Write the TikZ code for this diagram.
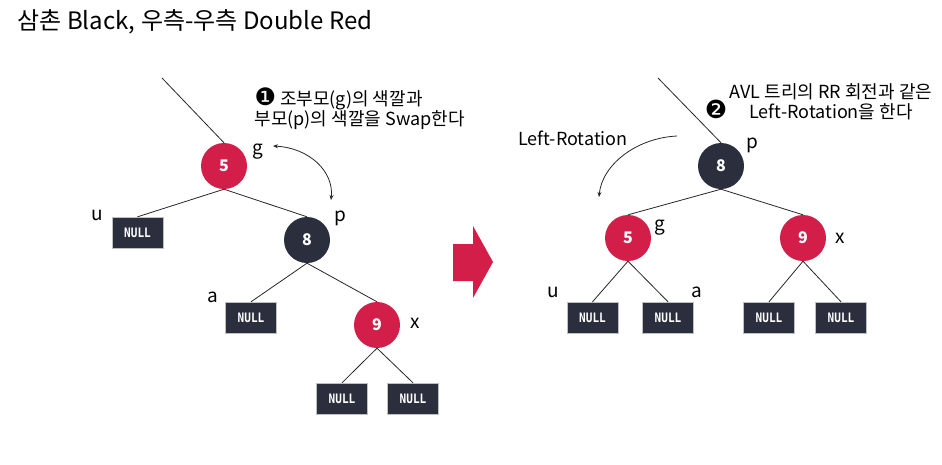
\documentclass[tikz,border=0pt]{standalone}
\usepackage{fontspec}
\setmainfont{Noto Sans CJK KR}
\newfontfamily\symfont{DejaVu Sans}
\newfontfamily\boxfont[FakeStretch=0.85]{DejaVu Sans Mono}
\usetikzlibrary{arrows.meta}
\definecolor{rbred}{RGB}{210,30,72}
\definecolor{rbdark}{RGB}{42,46,61}

\begin{document}
\begin{tikzpicture}[x=1pt,y=-1pt,
  rednode/.style={circle,fill=rbred,minimum size=46pt,inner sep=0pt,text=white,font=\bfseries\fontsize{16}{16}\selectfont},
  blacknode/.style={rednode,fill=rbdark},
  nullbox/.style={fill=rbdark,draw=gray!50,line width=0.4pt,minimum width=51pt,minimum height=31pt,inner sep=0pt,text=white,font=\boxfont\bfseries\fontsize{13}{13}\selectfont},
  tag/.style={font=\fontsize{19}{19}\selectfont},
  note/.style={font=\fontsize{18}{20}\selectfont},
  edge/.style={draw=black!85,line width=0.8pt},
  swing/.style={draw=black!85,line width=0.8pt}
]
\useasboundingbox (0,0) rectangle (942,464);

\node[anchor=base west,font=\fontsize{24}{24}\selectfont] (title) at (14,29) {삼촌 Black, 우측-우측 Double Red};

% before: left tree
\coordinate (ltop) at (162,78);
\node[rednode] (g) at (224,166) {5};
\node[blacknode] (p) at (307,240) {8};
\node[rednode] (x) at (377,325) {9};
\node[nullbox] (u) at (137.5,232.5) {NULL};
\node[nullbox] (a) at (251,317.5) {NULL};
\node[nullbox] (xl) at (342,398.5) {NULL};
\node[nullbox] (xr) at (413,398.5) {NULL};
\node[tag] (gtag) at (258,152) {g};
\node[tag] (ptag) at (340,218) {p};
\node[tag] (utag) at (97,215) {u};
\node[tag] (atag) at (213,297) {a};
\node[tag] (xtag) at (415,323) {x};

\draw[edge] (ltop) -- (g.north);
\draw[edge] (g.south) -- (u.north);
\draw[edge] (g.south) -- (p.north);
\draw[edge] (p.south) -- (a.north);
\draw[edge] (p.south) -- (x.north);
\draw[edge] (x.south) -- (xl.north);
\draw[edge] (x.south) -- (xr.north);

\node[note,anchor=north west,align=left] (swapnote) at (251,84)
  {{\symfont\fontsize{24}{20}\selectfont ❶} 조부모(g)의 색깔과\\부모(p)의 색깔을 Swap한다};
\coordinate (swapa) at (273,146);
\coordinate (swapb) at (331,200);
\draw[swing,{Stealth[length=5pt,width=4pt]}-{Stealth[length=5pt,width=4pt]}]
  (swapa) .. controls (310,148) and (334,172) .. (swapb);

% big arrow
\fill[rbred] (453,244) -- (473,244) -- (473,226) -- (493,262) -- (473,298)
  -- (473,281) -- (453,281) -- cycle;

% after: right tree
\coordinate (rtop) at (658,78);
\node[blacknode] (rp) at (721,166) {8};
\node[rednode] (rg) at (628,238) {5};
\node[rednode] (rx) at (803,238) {9};
\node[nullbox] (ru) at (592.5,317.5) {NULL};
\node[nullbox] (ra) at (668,317.5) {NULL};
\node[nullbox] (rxl) at (769,317.5) {NULL};
\node[nullbox] (rxr) at (841,317.5) {NULL};
\node[tag] (rptag) at (752,145) {p};
\node[tag] (rgtag) at (660,228) {g};
\node[tag] (rxtag) at (840,238) {x};
\node[tag] (rutag) at (553,292) {u};
\node[tag] (ratag) at (697,292) {a};

\draw[edge] (rtop) -- (rp.north);
\draw[edge] (rp.south) -- (rg.north);
\draw[edge] (rp.south) -- (rx.north);
\draw[edge] (rg.south) -- (ru.north);
\draw[edge] (rg.south) -- (ra.north);
\draw[edge] (rx.south) -- (rxl.north);
\draw[edge] (rx.south) -- (rxr.north);

\node[font=\symfont\fontsize{25}{25}\selectfont] (two) at (716,109) {❷};
\node[note,align=center] (rotnote) at (831,102)
  {AVL 트리의 RR 회전과 같은\\Left-Rotation을 한다};
\node[note] (rotlabel) at (573,138) {Left-Rotation};
\coordinate (rota) at (677,136);
\coordinate (rotb) at (599,197);
\draw[swing,-{Stealth[length=5pt,width=4pt]}]
  (rota) .. controls (636,138) and (602,165) .. (rotb);
\end{tikzpicture}
\end{document}
